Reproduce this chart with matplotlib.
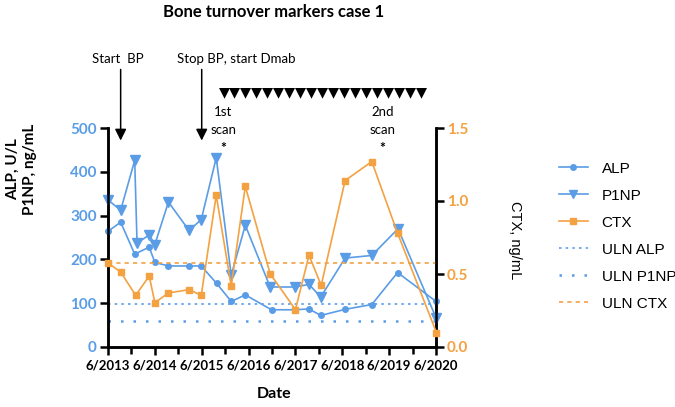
import matplotlib
matplotlib.use("Agg")
import matplotlib.pyplot as plt
from matplotlib.lines import Line2D

# dates as decimal years (6/2013 = 2013.5)
alp_dates = [2013.5, 2013.77, 2014.07, 2014.38, 2014.5, 2014.79, 2015.23, 2015.49, 2015.82, 2016.13,
             2016.43, 2016.99, 2017.5, 2017.79, 2018.04, 2018.56, 2019.13, 2019.68, 2020.5]
alp = [264, 285, 212, 228, 193, 185, 185, 185, 145, 104,
       119, 85, 85, 87, 72, 86, 97, 170, 104]

p1np_dates = [2013.5, 2013.77, 2014.07, 2014.12, 2014.38, 2014.5, 2014.79, 2015.23, 2015.49, 2015.81,
              2016.13, 2016.43, 2016.96, 2017.5, 2017.79, 2018.04, 2018.56, 2019.13, 2019.69, 2020.5]
p1np = [336, 312, 426, 237, 256, 234, 331, 266, 291, 432,
        164, 278, 137, 137, 143, 114, 203, 209, 270, 67]

ctx_dates = [2013.5, 2013.77, 2014.09, 2014.38, 2014.5, 2014.79, 2015.23, 2015.49, 2015.81, 2016.13,
             2016.43, 2016.96, 2017.5, 2017.79, 2018.05, 2018.56, 2019.13, 2019.68, 2020.51]
ctx = [0.575, 0.514, 0.354, 0.486, 0.304, 0.37, 0.393, 0.354, 1.04, 0.416,
       1.10, 0.502, 0.256, 0.628, 0.422, 1.14, 1.27, 0.78, 0.098]

uln_alp = 98
uln_p1np = 59
uln_ctx = 0.575

tick_years = [2013.5 + k for k in range(8)]
tick_labels = ["6/%d" % (2013 + k) for k in range(8)]

blue = "#5a9de6"
orange = "#f4a142"

plt.rcParams['font.family'] = ['Lato', 'DejaVu Sans']

fig = plt.figure(figsize=(6.75, 4.07), dpi=100)
ax = fig.add_axes([108/675, 1-347/407, 328/675, 219/407])
ax2 = ax.twinx()

x0, x1 = tick_years[0], tick_years[-1]
ax.plot([x0, x1], [uln_alp, uln_alp], color=blue, lw=1.2, ls=(0, (1.5, 2.5)))
ax.plot([x0, x1], [uln_p1np, uln_p1np], color=blue, lw=1.8, ls=(0, (1, 4)))
ax2.plot([x0, x1], [uln_ctx, uln_ctx], color=orange, lw=1.2, ls=(0, (2.5, 2.5)))

ax.plot(alp_dates, alp, color=blue, lw=1.2, marker='o', ms=4, clip_on=False, zorder=3)
ax.plot(p1np_dates, p1np, color=blue, lw=1.2, marker='v', ms=6.5, clip_on=False, zorder=3)
ax2.plot(ctx_dates, ctx, color=orange, lw=1.2, marker='s', ms=4.5, clip_on=False, zorder=3)

ax.set_xlim(x0, x1)
ax.set_ylim(0, 500)
ax2.set_ylim(0, 1.5)

for a in (ax, ax2):
    a.spines['top'].set_visible(False)
    for s in ('left', 'right', 'bottom'):
        a.spines[s].set_linewidth(1.8)

ax.set_xticks(tick_years)
ax.set_xticks([y + 0.5 for y in tick_years[:-1]], minor=True)
ax.set_xticklabels(tick_labels, fontsize=9.5, fontweight='bold')
ax.tick_params(axis='x', which='major', length=6, width=1.8, pad=3)
ax.tick_params(axis='x', which='minor', length=5, width=1.8)

ax.set_yticks(range(0, 501, 100))
ax.set_yticklabels([str(v) for v in range(0, 501, 100)], fontsize=11, fontweight='bold', color=blue)
ax.tick_params(axis='y', length=6, width=1.8, pad=2)

ax2.set_yticks([0, 0.5, 1.0, 1.5])
ax2.set_yticklabels(["0.0", "0.5", "1.0", "1.5"], fontsize=11, fontweight='bold', color=orange)
ax2.tick_params(axis='y', length=6, width=1.8, pad=2)

fig.text(274/675, 1-394/407, "Date", ha='center', va='center', fontsize=11.5, fontweight='bold')
fig.text(0.032, 0.585, "ALP, U/L\nP1NP, ng/mL", rotation=90, ha='center', va='center',
         fontsize=11, fontweight='bold', linespacing=1.3)
fig.text(515/675, 1-240/407, "CTX, ng/mL", rotation=-90, ha='center', va='center',
         fontsize=10.5, family=['Liberation Sans', 'DejaVu Sans'])

fig.text(274/675, 1-12/407, "Bone turnover markers case 1", ha='center', va='center',
         fontsize=12, fontweight='bold')

# treatment annotations
fig.text(118/675, 1-59/407, "Start  BP", ha='center', va='center', fontsize=9.5)
fig.text(236/675, 1-59/407, "Stop BP, start Dmab", ha='center', va='center', fontsize=9.5)
for xa in (2013.77, 2015.5):
    ax.annotate("", xy=(xa, 465), xytext=(xa, 640), xycoords='data',
                arrowprops=dict(arrowstyle='-|>', color='black', lw=1.1, mutation_scale=17),
                annotation_clip=False)
fig.text(323/675, 1-92/407, "\u25bc" * 19, ha='center', va='center', fontsize=10.4,
         family=['DejaVu Sans'])

for xs, lab in ((2015.96, "1st"), (2019.36, "2nd")):
    ax.text(xs, 536, lab, ha='center', va='center', fontsize=9.5, clip_on=False)
    ax.text(xs, 495, "scan", ha='center', va='center', fontsize=9.5, clip_on=False)
    ax.text(xs, 455, "*", ha='center', va='center', fontsize=10, fontweight='bold', clip_on=False)

handles = [
    Line2D([], [], color=blue, lw=1.2, marker='o', ms=4),
    Line2D([], [], color=blue, lw=1.2, marker='v', ms=6),
    Line2D([], [], color=orange, lw=1.2, marker='s', ms=4),
    Line2D([], [], color=blue, lw=1.2, ls=(0, (1.5, 2.5))),
    Line2D([], [], color=blue, lw=1.8, ls=(0, (1, 4))),
    Line2D([], [], color=orange, lw=1.2, ls=(0, (2.5, 2.5))),
]
labels = ["ALP", "P1NP", "CTX", "ULN ALP", "ULN P1NP", "ULN CTX"]
fig.legend(handles, labels, loc='upper left', bbox_to_anchor=(545/675, 1-148/407),
           frameon=False, handlelength=1.9, handletextpad=0.9,
           labelspacing=0.85, prop={'family': ['Liberation Sans', 'DejaVu Sans'], 'size': 11})

fig.savefig("out.png", dpi=100)
